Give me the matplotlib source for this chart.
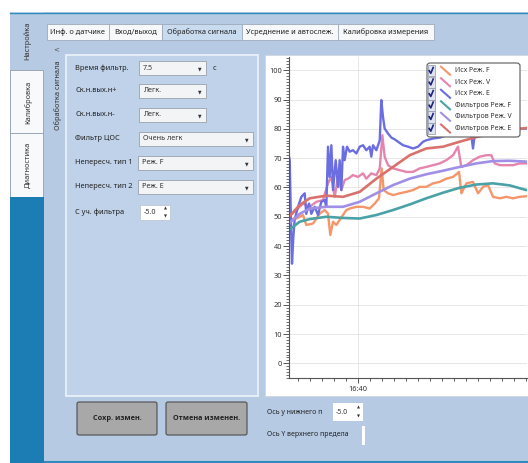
import matplotlib
matplotlib.use("Agg")
import matplotlib.pyplot as plt
from matplotlib.patches import Rectangle, FancyBboxPatch
from matplotlib.lines import Line2D
from matplotlib.ticker import FixedLocator, MultipleLocator

plt.rcParams['font.family'] = ['Noto Sans', 'DejaVu Sans']

# ---------------- data (seconds relative to 16:40:00) ----------------
t_raw_F = [-57.5, -51.4, -45.8, -43.1, -37.5, -31.9, -27.8, -25.0, -23.1, -20.8, -18.1, -15.3,
           -12.5, -9.7, -6.9, -1.4, 4.2, 9.7, 13.9, 17.5, 19.7, 21.4, 25.0, 29.2, 34.7, 40.3,
           45.8, 51.4, 56.9, 62.5, 68.1, 73.6, 79.2, 84.2, 86.1, 90.3, 95.8, 100.0, 104.2,
           108.3, 112.5, 118.1, 123.6, 129.2, 134.7, 140.3]
raw_F = [48.9, 49.4, 50.6, 47.2, 47.7, 51.1, 52.3, 51.1, 43.8, 48.3, 47.2, 48.9,
         50.6, 52.3, 52.8, 53.4, 53.4, 52.8, 54.5, 56.3, 66.5, 59.1, 58.0, 57.4, 58.0, 58.5,
         59.1, 60.2, 60.2, 61.4, 61.9, 63.0, 63.6, 65.3, 58.0, 61.4, 61.9, 58.0, 60.2,
         60.8, 56.8, 56.3, 56.8, 56.3, 56.8, 57.0]

t_raw_V = [-57.5, -51.4, -45.8, -40.3, -34.7, -29.2, -25.0, -22.2, -19.4, -16.7, -13.9, -11.1,
           -8.3, -4.2, 0.0, 4.2, 6.9, 11.1, 15.3, 18.1, 20.3, 22.2, 25.0, 29.2, 34.7, 40.3,
           45.8, 51.4, 56.9, 62.5, 68.1, 73.6, 79.2, 83.3, 86.1, 90.3, 95.8, 101.4, 106.9,
           111.1, 113.9, 118.1, 123.6, 129.2, 134.7, 140.3]
raw_V = [50.0, 52.3, 54.5, 53.4, 55.1, 55.7, 61.4, 63.6, 56.8, 63.6, 59.1, 62.5,
         63.0, 64.2, 63.6, 64.8, 63.0, 64.8, 64.2, 66.5, 77.8, 70.5, 67.6, 66.5, 65.9, 65.3,
         65.3, 66.5, 67.0, 67.6, 68.2, 69.3, 71.0, 73.9, 67.0, 67.6, 69.3, 70.5, 71.0,
         71.0, 68.2, 67.6, 67.6, 67.6, 68.2, 68.2]

t_raw_E = [-57.5, -56.9, -55.6, -55.0, -53.9, -52.8, -50.0, -47.2, -44.4, -43.1, -40.8, -38.9,
           -36.1, -33.3, -30.6, -27.8, -26.4, -25.0, -23.6, -22.2, -20.8, -18.6, -16.7, -15.3,
           -13.9, -12.5, -11.1, -9.2, -6.9, -4.2, -1.4, 1.4, 4.2, 6.9, 9.7, 11.1, 12.5, 15.3,
           18.1, 19.4, 20.8, 22.2, 25.0, 27.8, 30.6, 33.3, 37.5, 41.7, 45.8, 50.0, 54.2, 56.9,
           62.5, 68.1, 73.6, 79.2, 84.7, 90.3, 94.4, 95.8, 97.2, 106.9, 118.1, 129.2, 140.3]
raw_E = [70.5, 69.3, 43.0, 34.0, 43.0, 49.0, 53.4, 56.8, 58.0, 51.0, 54.5, 51.0,
         53.4, 50.6, 55.1, 55.7, 53.4, 73.9, 63.6, 74.4, 59.1, 69.3, 60.2, 69.3,
         59.1, 73.9, 69.3, 73.9, 72.2, 72.7, 71.6, 73.9, 74.4, 72.7, 73.9, 70.5, 74.4, 72.7,
         76.1, 89.8, 84.1, 80.1, 78.4, 77.0, 76.4, 75.6, 74.4, 73.9, 73.3, 73.9, 75.6, 76.1,
         76.7, 77.0, 77.8, 78.4, 77.8, 78.4, 77.8, 73.3, 77.8, 79.0, 79.5, 79.8, 80.1]

t_filt = [-57.5, -48.6, -40.3, -26.4, -12.5, 1.4, 15.3, 29.2, 43.1, 56.9, 70.8, 84.7,
          98.6, 112.5, 126.4, 140.3]
filt_F = [45.5, 48.3, 49.2, 50.0, 49.6, 49.4, 50.6, 52.3, 54.2, 56.3, 58.2, 59.9,
          61.0, 61.4, 60.7, 59.1]
filt_V = [47.7, 51.0, 52.8, 53.4, 53.4, 55.1, 58.0, 60.8, 63.0, 64.5, 65.7, 67.0,
          68.2, 69.0, 69.1, 68.8]
filt_E = [50.0, 54.0, 56.3, 57.2, 56.8, 58.5, 63.0, 67.0, 71.0, 73.3, 73.9, 75.6,
          77.2, 78.4, 79.5, 80.3]

series_names = ["Исх Реж. F", "Исх Реж. V", "Исх Реж. E",
                "Фильтров Реж. F", "Фильтров Реж. V", "Фильтров Реж. E"]
series_colors = ["#f5956a", "#e585ad", "#6b6ee0", "#4aa2a6", "#a08fe6", "#d9716c"]

y_ticks = [0, 10, 20, 30, 40, 50, 60, 70, 80, 90, 100]
x_major = [0]
x_major_labels = ["16:40"]

tab_labels = ["Инф. о датчике", "Вход/выход", "Обработка сигнала",
              "Усреднение и автослеж.", "Калибровка измерения"]
side_tabs = ["Настройка", "Калибровка", "Диагностика"]
field_labels = ["Время фильтр.", "Ск.н.вых.н+", "Ск.н.вых.н-", "Фильтр ЦОС",
                "Непересч. тип 1", "Непересч. тип 2", "С уч. фильтра"]
field_values = ["7.5", "Легк.", "Легк.", "Очень легк", "Реж. F", "Реж. E", "-5.0"]

# ---------------- figure / helpers ----------------
W, H = 528, 463
fig = plt.figure(figsize=(W / 100, H / 100), dpi=100)
fig.patch.set_facecolor("white")


def fx(x):
    return x / W


def fy(y):
    return 1 - y / H


def rect(x0, y0, x1, y1, fc, ec="none", lw=0.7, z=1, rounded=False):
    if rounded:
        p = FancyBboxPatch((fx(x0), fy(y1)), (x1 - x0) / W, (y1 - y0) / H,
                           boxstyle="round,pad=0,rounding_size=0.004",
                           transform=fig.transFigure, fc=fc, ec=ec, lw=lw, zorder=z)
    else:
        p = Rectangle((fx(x0), fy(y1)), (x1 - x0) / W, (y1 - y0) / H,
                      transform=fig.transFigure, fc=fc, ec=ec, lw=lw, zorder=z)
    fig.add_artist(p)


def text(x, y, s, size=5.5, ha="left", va="center", rot=0, weight="normal", color="#222",
         z=3, family=None):
    kw = {}
    if family is not None:
        kw["family"] = family
    fig.text(fx(x), fy(y), s, fontsize=size, ha=ha, va=va, rotation=rot,
             fontweight=weight, color=color, zorder=z, **kw)


MAIN = "#b6cae3"
PANEL = "#bfd2ea"

# main frame
rect(10, 12, 528, 463, MAIN, z=0.5)
fig.add_artist(Line2D([fx(10), fx(528)], [fy(12.5), fy(12.5)], transform=fig.transFigure,
                      color="#2f8dbd", lw=1.0, zorder=1))
fig.add_artist(Line2D([fx(45), fx(528)], [fy(462), fy(462)], transform=fig.transFigure,
                      color="#2f8dbd", lw=1.5, zorder=1))

# left vertical tab strip
rect(10, 12, 44, 463, "#c8dbee", z=0.8)
rect(10, 13, 44, 70, MAIN, z=0.9)
rect(10, 70, 43, 133, "#f8f9fb", ec="#9aa6b5", z=0.9)
rect(10, 133, 43, 197, "#f8f9fb", ec="#9aa6b5", z=0.9)
rect(10, 197, 44, 463, "#1b7db3", z=0.9)
for lab, yc in zip(side_tabs, [41, 102, 165]):
    text(28, yc, lab, size=5.3, ha="center", rot=90, color="#333")

# top tabs
tab_x = [47, 109, 162, 242, 338, 434]
for i, lab in enumerate(tab_labels):
    sel = (i == 2)
    rect(tab_x[i], 24, tab_x[i + 1], 40, "#c9dbef" if sel else "#f7f8fa", ec="#9eaabb", lw=0.6, z=1)
    text((tab_x[i] + tab_x[i + 1]) / 2, 32.5, lab, size=5.3, ha="center", color="#222")

text(56, 49, "<", size=5, ha="center", color="#555", family="DejaVu Sans")
text(58, 95, "Обработка сигнала", size=5.3, ha="center", rot=90, color="#333")

# settings panel
rect(66, 55, 258, 396, PANEL, ec="#e9f0f8", lw=1.3, z=1)
label_y = [68, 91, 115, 139, 163, 187, 212]
for lab, yv in zip(field_labels, label_y):
    text(75, yv, lab, size=5.3)
combo_right = [206, 206, 206, 253, 253, 253]
combo_left = [139, 139, 139, 139, 138, 138]
for i in range(6):
    yv = label_y[i]
    rect(combo_left[i], yv - 7, combo_right[i], yv + 7, "#f3f4f6", ec="#98a2ae", lw=0.6, z=2)
    text(combo_left[i] + 4, yv, field_values[i], size=5.2, color="#333")
    text(combo_right[i] - 6, yv + 0.5, "▼", size=3.3, ha="center", color="#333",
         family="DejaVu Sans")
text(213, 68, "с", size=5.3)
# spin box
rect(140, 205, 170, 220, "white", ec="#b8c2cc", lw=0.5, z=2)
text(144, 212.5, field_values[6], size=5.2, color="#333")
text(165, 208.5, "▲", size=2.8, ha="center", color="#333", family="DejaVu Sans")
text(165, 216.5, "▼", size=2.8, ha="center", color="#333", family="DejaVu Sans")

# buttons
rect(77, 402, 157, 435, "#a8a8a8", ec="#4d4d4d", lw=0.8, z=2, rounded=True)
rect(166, 402, 247, 435, "#a8a8a8", ec="#4d4d4d", lw=0.8, z=2, rounded=True)
text(117, 418.5, "Сохр. измен.", size=5.2, ha="center", weight="bold",
     family=["Open Sans", "DejaVu Sans"])
text(206.5, 418.5, "Отмена изменен.", size=5.2, ha="center", weight="bold",
     family=["Open Sans", "DejaVu Sans"])

# y-axis limit controls
text(267, 412, "Ось у нижнего п", size=5.0)
rect(333, 403, 363, 421, "white", ec="none", z=2)
text(336, 412, "-5.0", size=5.0, color="#333")
text(358, 407.5, "▲", size=2.8, ha="center", color="#333", family="DejaVu Sans")
text(358, 416, "▼", size=2.8, ha="center", color="#333", family="DejaVu Sans")
text(267, 435, "Ось Y верхнего предела", size=5.0)
rect(362, 426, 365, 445, "white", ec="none", z=2)

# chart white panel
rect(265, 55, 529, 396, "white", ec="#d0d6de", lw=0.6, z=1)

# ---------------- chart ----------------
ax = fig.add_axes([fx(289), fy(378), (527 - 289) / W, (378 - 57) / H])
ax.set_zorder(5)
ax.set_facecolor("white")

raw = [(t_raw_F, raw_F), (t_raw_V, raw_V), (t_raw_E, raw_E)]
filt = [filt_F, filt_V, filt_E]
for i, (tt, vv) in enumerate(raw):
    ax.plot(tt, vv, color=series_colors[i], lw=1.7, solid_joinstyle="round")
for i, vv in enumerate(filt):
    ax.plot(t_filt, vv, color=series_colors[3 + i], lw=1.9, solid_capstyle="round")

ax.set_xlim(-57.5, 140.8)
ax.set_ylim(-5, 104.5)
ax.yaxis.set_major_locator(FixedLocator(y_ticks))
ax.yaxis.set_minor_locator(MultipleLocator(1))
ax.xaxis.set_major_locator(FixedLocator(x_major))
ax.set_xticklabels(x_major_labels)
ax.xaxis.set_minor_locator(MultipleLocator(10))
ax.grid(True, which="major", color="#e3e3e3", lw=0.6)
ax.set_axisbelow(True)
for s in ["top", "right"]:
    ax.spines[s].set_visible(False)
for s in ["left", "bottom"]:
    ax.spines[s].set_color("#555")
    ax.spines[s].set_linewidth(0.8)
ax.tick_params(axis="y", which="major", length=4, width=0.7, color="#555", labelsize=5.3,
               labelcolor="#333", pad=1)
ax.tick_params(axis="y", which="minor", length=2.0, width=0.6, color="#555")
ax.tick_params(axis="x", which="major", length=3.5, width=0.7, color="#555", labelsize=5.3,
               labelcolor="#333", pad=2)
ax.tick_params(axis="x", which="minor", length=2.2, width=0.7, color="#555")

# ---------------- legend (custom, with checkboxes) ----------------
lx0, ly0, lx1, ly1 = 427, 63, 520, 137
fig.add_artist(FancyBboxPatch((fx(lx0), fy(ly1)), (lx1 - lx0) / W, (ly1 - ly0) / H,
                              boxstyle="round,pad=0,rounding_size=0.006",
                              transform=fig.transFigure, fc="white", ec="#5a5a5a",
                              lw=0.8, zorder=10))
row_y = [70.7, 82.3, 93.8, 105.3, 116.8, 128.5]
for name, col, yr in zip(series_names, series_colors, row_y):
    rect(427.5, yr - 5.7, 434.5, yr + 5.7, "#dfe4ee", ec="#8a94a8", lw=0.5, z=11)
    # check mark drawn as two strokes
    fig.add_artist(Line2D([fx(429.2), fx(430.8), fx(433.2)],
                          [fy(yr), fy(yr + 2.6), fy(yr - 3.2)],
                          transform=fig.transFigure, color="#1c2380", lw=1.2,
                          solid_joinstyle="round", zorder=12))
    fig.add_artist(Line2D([fx(441), fx(450)], [fy(yr - 4), fy(yr + 4)],
                          transform=fig.transFigure, color=col, lw=1.5, zorder=12))
    fig.text(fx(455), fy(yr), name, fontsize=5.0, ha="left", va="center",
             color="#333", zorder=12)

fig.savefig("out.png", dpi=100, facecolor="white")
